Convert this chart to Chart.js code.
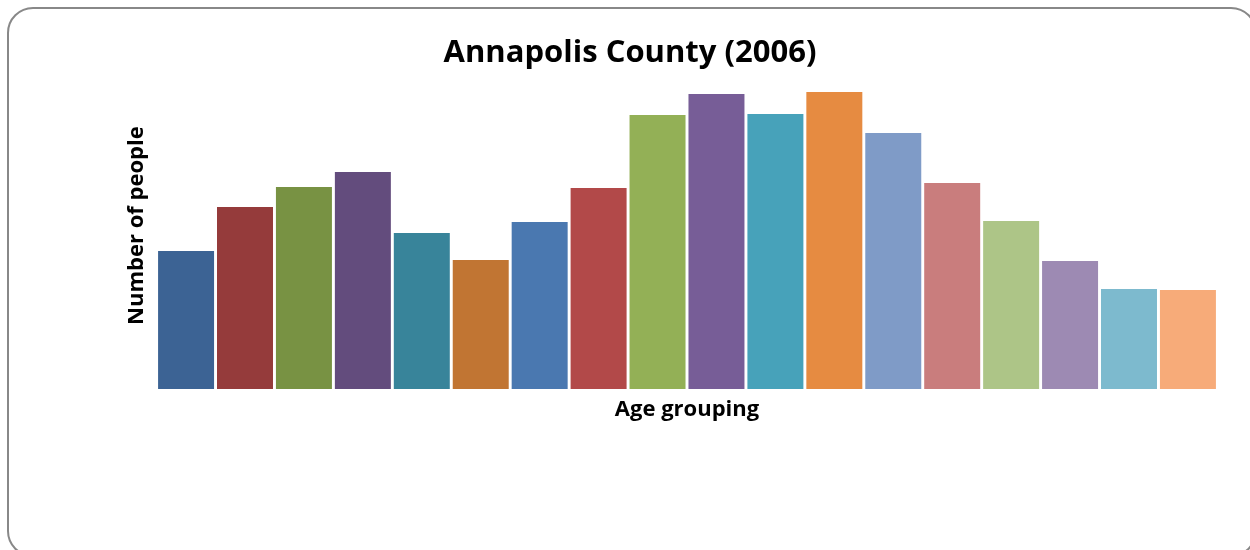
<!DOCTYPE html>
<html>
<head>
<meta charset="utf-8">
<script src="https://cdn.jsdelivr.net/npm/chart.js@4/dist/chart.umd.min.js"></script>
<style>
  html, body { margin: 0; padding: 0; background: #fff; overflow: hidden; }
  .frame {
    position: absolute; left: 7px; top: 7px; width: 1250px; height: 550px;
    border: 2px solid #888; border-radius: 26px; box-sizing: border-box;
  }
  .wrap { position: absolute; left: 0; top: 0; width: 1250px; height: 550px; }
</style>
</head>
<body>
<div class="frame"></div>
<div class="wrap"><canvas id="chart"></canvas></div>
<script>
// Groupes d'âge (catégories)
const ageGroups = ["0-4", "5-9", "10-14", "15-19", "20-24", "25-29", "30-34", "35-39", "40-44",
  "45-49", "50-54", "55-59", "60-64", "65-69", "70-74", "75-79", "80-84", "85+"];

// Nombre de personnes (estimé à partir de l'image)
const people = [845, 1114, 1236, 1328, 955, 789, 1022, 1230, 1677,
  1805, 1683, 1818, 1567, 1261, 1028, 783, 612, 606];

const barColors = ["#3C6394", "#953B3B", "#789243", "#634C7D", "#38849A", "#C17533",
  "#4A78B0", "#B24949", "#93B056", "#775D97", "#47A2BA", "#E68B41",
  "#7F9BC7", "#C97D7D", "#ADC587", "#9D8AB3", "#7DBACE", "#F7AB79"];

const yMax = 2000;

new Chart(document.getElementById("chart").getContext("2d"), {
  type: "bar",
  data: {
    labels: ageGroups,
    datasets: [
      {
        label: "Number of people",
        data: people,
        backgroundColor: barColors,
        borderWidth: 0,
        barPercentage: 0.95,
        categoryPercentage: 1
      }
    ]
  },
  options: {
    responsive: true,
    maintainAspectRatio: false,
    animation: false,
    layout: { padding: { left: 42.6, right: 32.6, top: 0, bottom: 122.6 } },
    plugins: {
      legend: { display: false },
      tooltip: { enabled: false },
      title: {
        display: true,
        text: "Annapolis County (2006)",
        color: "#000",
        font: { family: "Open Sans", size: 31, weight: "bold" },
        padding: { top: 35, bottom: -10 }
      }
    },
    scales: {
      x: {
        grid: { display: false, drawTicks: false },
        border: { display: false },
        ticks: { display: false },
        title: {
          display: true,
          text: "Age grouping",
          color: "#000",
          font: { family: "Open Sans", size: 22, weight: "bold" },
          padding: { top: 8, bottom: 4 }
        }
      },
      y: {
        min: 0,
        max: yMax,
        grid: { display: false, drawTicks: false },
        border: { display: false },
        ticks: { display: false },
        title: {
          display: true,
          text: "Number of people",
          color: "#000",
          font: { family: "Open Sans", size: 22, weight: "bold" },
          padding: { top: 81.2, bottom: 6.4 }
        }
      }
    }
  }
});
</script>
</body>
</html>
